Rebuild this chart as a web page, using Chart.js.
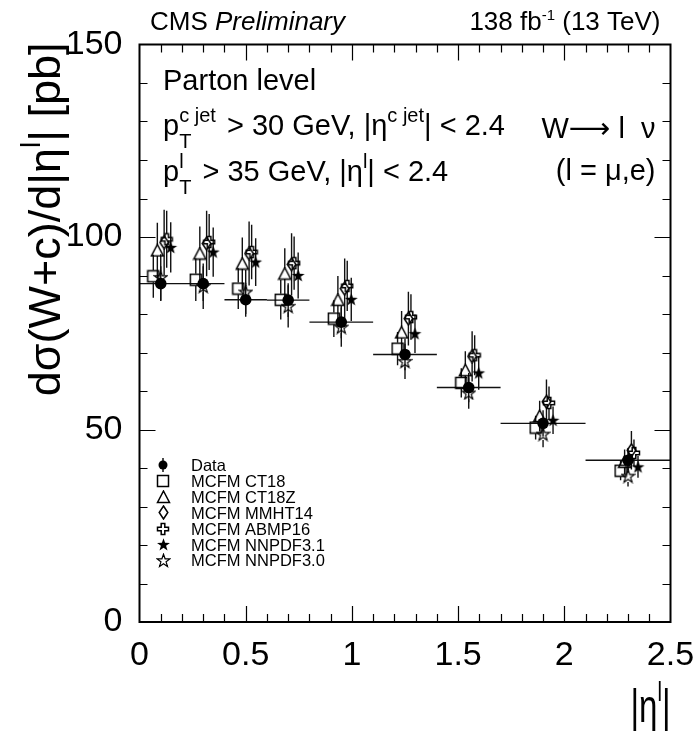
<!DOCTYPE html>
<html>
<head>
<meta charset="utf-8">
<script src="https://cdn.jsdelivr.net/npm/chart.js@4.4.1/dist/chart.umd.min.js"></script>
<style>
  html, body { margin: 0; padding: 0; background: #fff; }
</style>
</head>
<body>
<canvas id="xsec" width="697" height="731"></canvas>
<script>
/* |eta| bins */
const etaLo = [0, 0.2, 0.4, 0.6, 0.8, 1.1, 1.4, 1.7, 2.1];
const etaHi = [0.2, 0.4, 0.6, 0.8, 1.1, 1.4, 1.7, 2.1, 2.5];

/* measured cross section (pb) */
const dataXsec = [87.9, 87.9, 83.7, 83.6, 77.9, 69.5, 60.9, 51.6, 42.0];
const dataErr  = [4.5, 4.5, 4.4, 4.4, 4.2, 4.1, 3.8, 3.4, 3.2];

/* MCFM predictions */
const ct18      = [89.8, 88.9, 86.6, 83.7, 78.8, 71.0, 62.1, 50.5, 39.3];
const ct18Err   = [5.6, 5.5, 5.3, 5.1, 4.8, 4.3, 3.8, 3.1, 2.5];
const ct18z     = [96.5, 95.7, 93.1, 90.5, 83.7, 75.2, 65.4, 53.5, 41.6];
const ct18zErr  = [7.2, 7.0, 6.8, 6.6, 6.2, 5.6, 4.9, 4.0, 3.2];
const mmht14    = [98.6, 98.3, 95.7, 92.9, 86.6, 78.8, 69.0, 57.2, 44.6];
const mmht14Err = [8.5, 8.5, 8.3, 8.1, 7.8, 7.0, 6.5, 5.8, 5.0];
const abmp16    = [99.4, 98.7, 96.1, 93.2, 87.3, 79.2, 69.3, 56.9, 43.9];
const abmp16Err = [7.4, 7.3, 7.1, 6.9, 6.5, 5.9, 5.2, 4.3, 3.5];
const nnpdf31   = [97.3, 96.1, 93.5, 90.0, 83.8, 74.9, 64.7, 52.4, 40.3];
const nnpdf31Err= [6.5, 6.4, 6.2, 6.0, 5.6, 5.0, 4.4, 3.6, 2.8];
const nnpdf30   = [89.5, 87.2, 85.7, 82.0, 76.6, 67.7, 59.5, 48.8, 37.9];
const nnpdf30Err= [6.0, 5.9, 5.7, 5.5, 5.1, 4.6, 4.1, 3.4, 2.7];

const seriesNames = ['Data', 'MCFM CT18', 'MCFM CT18Z', 'MCFM MMHT14', 'MCFM ABMP16', 'MCFM NNPDF3.1', 'MCFM NNPDF3.0'];
/* horizontal displacement of the predictions inside each bin (in |eta| units) */
const modelShift = [-0.035, -0.016, 0.016, 0.028, 0.047, 0];

const xTicks = [0, 0.5, 1, 1.5, 2, 2.5];
const yTicks = [0, 50, 100, 150];

const FONT = '"Liberation Sans", Arial, "DejaVu Sans", sans-serif';

/* ---- markers (ROOT style) ---- */
function marker(w, h, draw) {
  const c = document.createElement('canvas');
  c.width = w; c.height = h;
  const g = c.getContext('2d');
  g.strokeStyle = '#000'; g.fillStyle = '#000'; g.lineWidth = 1.5;
  draw(g, w, h);
  return c;
}
function starPath(g, cx, cy, ro, ri) {
  g.beginPath();
  for (let k = 0; k < 10; k++) {
    const r = k % 2 ? ri : ro;
    const a = -Math.PI / 2 + k * Math.PI / 5;
    g.lineTo(cx + r * Math.cos(a), cy + r * Math.sin(a));
  }
  g.closePath();
}
const mkSquare = marker(14, 14, g => { g.strokeRect(1.5, 1.5, 11, 11); });
const mkTriangle = marker(15, 14, g => {
  g.beginPath(); g.moveTo(7.5, 1); g.lineTo(13.5, 12.5); g.lineTo(1.5, 12.5); g.closePath(); g.stroke();
});
const mkDiamond = marker(11, 15, g => {
  g.beginPath(); g.moveTo(5.5, 1); g.lineTo(9.8, 7.5); g.lineTo(5.5, 14); g.lineTo(1.2, 7.5); g.closePath(); g.stroke();
});
const mkCross = marker(14, 14, g => {
  const a = 1.5, b = 5.2, c = 8.8, d = 12.5;
  g.beginPath();
  g.moveTo(b, a); g.lineTo(c, a); g.lineTo(c, b); g.lineTo(d, b); g.lineTo(d, c); g.lineTo(c, c);
  g.lineTo(c, d); g.lineTo(b, d); g.lineTo(b, c); g.lineTo(a, c); g.lineTo(a, b); g.lineTo(b, b);
  g.closePath(); g.stroke();
});
const mkStarFull = marker(15, 15, g => { starPath(g, 7.5, 8, 6.8, 2.7); g.fill(); });
const mkStarOpen = marker(15, 15, g => { g.lineWidth = 1.2; starPath(g, 7.5, 8, 6.8, 2.7); g.stroke(); });

const centers = etaLo.map((lo, i) => (lo + etaHi[i]) / 2);

function model(label, vals, errs, shift, style, gap) {
  return {
    label: label,
    data: vals.map((v, i) => ({ x: centers[i] + shift, y: v })),
    err: errs,
    gap: gap,
    pointStyle: style,
    pointRadius: 6,
    borderColor: '#000',
    backgroundColor: '#000'
  };
}

const datasets = [
  {
    label: seriesNames[0],
    data: dataXsec.map((v, i) => ({ x: centers[i], y: v })),
    err: dataErr, gap: 0, xlo: etaLo, xhi: etaHi,
    pointStyle: 'circle', pointRadius: 5.8, borderWidth: 0,
    borderColor: '#000', backgroundColor: '#000'
  },
  model(seriesNames[1], ct18, ct18Err, modelShift[0], mkSquare, 6),
  model(seriesNames[2], ct18z, ct18zErr, modelShift[1], mkTriangle, 5.5),
  model(seriesNames[3], mmht14, mmht14Err, modelShift[2], mkDiamond, 6.5),
  model(seriesNames[4], abmp16, abmp16Err, modelShift[3], mkCross, 5.5),
  model(seriesNames[5], nnpdf31, nnpdf31Err, modelShift[4], mkStarFull, 0),
  model(seriesNames[6], nnpdf30, nnpdf30Err, modelShift[5], mkStarOpen, 6)
];

/* error bars drawn under the markers */
const errorBars = {
  id: 'errorBars',
  beforeDatasetsDraw(chart) {
    const ctx = chart.ctx, xs = chart.scales.x, ys = chart.scales.y;
    ctx.save();
    ctx.strokeStyle = '#111';
    ctx.lineWidth = 1.4;
    chart.data.datasets.forEach(ds => {
      ds.data.forEach((p, i) => {
        const px = xs.getPixelForValue(p.x), py = ys.getPixelForValue(p.y);
        const top = ys.getPixelForValue(p.y + ds.err[i]);
        const bot = ys.getPixelForValue(p.y - ds.err[i]);
        const g = ds.gap;
        ctx.beginPath();
        ctx.moveTo(px, top); ctx.lineTo(px, py - g);
        ctx.moveTo(px, py + g); ctx.lineTo(px, bot);
        if (ds.xlo) {
          ctx.moveTo(xs.getPixelForValue(ds.xlo[i]), py);
          ctx.lineTo(xs.getPixelForValue(ds.xhi[i]), py);
        }
        ctx.stroke();
      });
    });
    ctx.restore();
  }
};

/* frame with inward ticks on all four sides */
const frame = {
  id: 'frame',
  afterDraw(chart) {
    const ctx = chart.ctx, xs = chart.scales.x, ys = chart.scales.y;
    const a = chart.chartArea;
    ctx.save();
    ctx.strokeStyle = '#000';
    ctx.lineWidth = 1.2;
    ctx.beginPath();
    for (let k = 1; k < 25; k++) {
      const v = k / 10;
      const px = Math.round(xs.getPixelForValue(v)) + 0.5;
      const len = k % 5 === 0 ? 16 : 8;
      ctx.moveTo(px, a.bottom); ctx.lineTo(px, a.bottom - len);
      ctx.moveTo(px, a.top); ctx.lineTo(px, a.top + len);
    }
    for (let k = 1; k < 15; k++) {
      const v = k * 10;
      const py = Math.round(ys.getPixelForValue(v)) + 0.5;
      const len = k % 5 === 0 ? 16 : 8;
      ctx.moveTo(a.left, py); ctx.lineTo(a.left + len, py);
      ctx.moveTo(a.right, py); ctx.lineTo(a.right - len, py);
    }
    ctx.stroke();
    ctx.lineWidth = 2;
    ctx.strokeRect(a.left, a.top, a.right - a.left, a.bottom - a.top);
    ctx.restore();
  }
};

/* rich text: parts = [text, size, dy, italic, noAdvance] */
function rich(ctx, x, y, parts, align) {
  let w = 0, pending = 0;
  parts.forEach(p => {
    ctx.font = (p[3] ? 'italic ' : '') + p[1] + 'px ' + FONT;
    const pw = ctx.measureText(p[0]).width;
    if (p[4]) { pending = Math.max(pending, pw); }
    else { w += Math.max(pw, pending); pending = 0; }
  });
  let cx = align === 'right' ? x - w : x;
  pending = 0;
  parts.forEach(p => {
    ctx.font = (p[3] ? 'italic ' : '') + p[1] + 'px ' + FONT;
    ctx.fillText(p[0], cx, y + (p[2] || 0));
    const pw = ctx.measureText(p[0]).width;
    if (p[4]) { pending = Math.max(pending, pw); }
    else { cx += Math.max(pw, pending); pending = 0; }
  });
}

const labels = {
  id: 'labels',
  afterDraw(chart) {
    const ctx = chart.ctx, a = chart.chartArea;
    ctx.save();
    ctx.fillStyle = '#000';
    ctx.textBaseline = 'alphabetic';
    ctx.textAlign = 'left';

    // header
    rich(ctx, 150, 30, [['CMS ', 26], ['Preliminary', 26, 0, true]]);
    rich(ctx, a.right - 10, 30, [['138 fb', 26], ['-1', 15, -10], [' (13 TeV)', 26]], 'right');

    // selection text
    rich(ctx, 163, 90, [['Parton level', 29]]);
    rich(ctx, 163, 135, [['p', 29], ['T', 20, 13, false, true], ['c jet  ', 20, -13],
      ['> 30 GeV, |\u03b7', 29], ['c jet', 20, -13], ['| < 2.4', 29]]);
    rich(ctx, 163, 181, [['p', 29], ['l', 20, -13, false, true], ['T  ', 20, 13],
      ['> 35 GeV, |\u03b7', 29], ['l', 20, -13], ['| < 2.4', 29]]);
    rich(ctx, a.right - 15, 138, [['W', 29], ['\u27f6', 29], [' l  ', 29], ['\u03bd', 29]], 'right');
    rich(ctx, a.right - 15, 180, [['(l = \u03bc,e)', 29]], 'right');

    // y-axis title, rotated, right aligned to the top of the frame
    ctx.save();
    ctx.translate(60, a.top - 2);
    ctx.rotate(-Math.PI / 2);
    rich(ctx, 0, 0, [['d\u03c3(W+c)/d|\u03b7', 45], ['l', 28, -20], ['| [pb]', 45]], 'right');
    ctx.restore();

    // x-axis title (tall, narrow glyphs)
    ctx.save();
    ctx.translate(a.right, 722);
    ctx.scale(0.72, 1);
    rich(ctx, 0, 0, [['|\u03b7', 46], ['l', 28, -21], ['|', 46]], 'right');
    ctx.restore();

    // legend
    const lx = 163, ly = 465, step = 15.9;
    chart.data.datasets.forEach((ds, i) => {
      const y = ly + i * step;
      if (ds.pointStyle === 'circle') {
        ctx.beginPath(); ctx.arc(lx, y, 4.5, 0, 2 * Math.PI); ctx.fill();
        ctx.fillRect(lx - 0.7, y - 7, 1.4, 14);
      } else {
        const img = ds.pointStyle;
        ctx.drawImage(img, Math.round(lx - img.width / 2), Math.round(y - img.height / 2));
      }
      ctx.font = '16.5px ' + FONT;
      ctx.fillText(ds.label, 191, y + 6);
    });
    ctx.restore();
  }
};

new Chart(document.getElementById('xsec'), {
  type: 'scatter',
  data: { datasets: datasets },
  plugins: [errorBars, frame, labels],
  options: {
    responsive: false,
    animation: false,
    devicePixelRatio: 1,
    layout: { padding: { left: 0, right: 26.5, top: 44.5, bottom: 0 } },
    plugins: { legend: { display: false }, tooltip: { enabled: false } },
    scales: {
      x: {
        type: 'linear', min: 0, max: 2.5,
        afterFit(s) { s.height = 109; s.paddingLeft = 0; s.paddingRight = 0; },
        afterBuildTicks(s) { s.ticks = xTicks.map(v => ({ value: v })); },
        grid: { display: false, drawTicks: false },
        border: { display: false },
        ticks: { color: '#000', padding: 13, maxRotation: 0, font: { family: FONT, size: 34 },
          callback: v => String(v) }
      },
      y: {
        type: 'linear', min: 0, max: 150,
        afterFit(s) { s.width = 139.5; s.paddingTop = 0; s.paddingBottom = 0; },
        afterBuildTicks(s) { s.ticks = yTicks.map(v => ({ value: v })); },
        grid: { display: false, drawTicks: false },
        border: { display: false },
        ticks: { color: '#000', padding: 17, font: { family: FONT, size: 34 },
          callback: v => String(v) }
      }
    }
  }
});
</script>
</body>
</html>
